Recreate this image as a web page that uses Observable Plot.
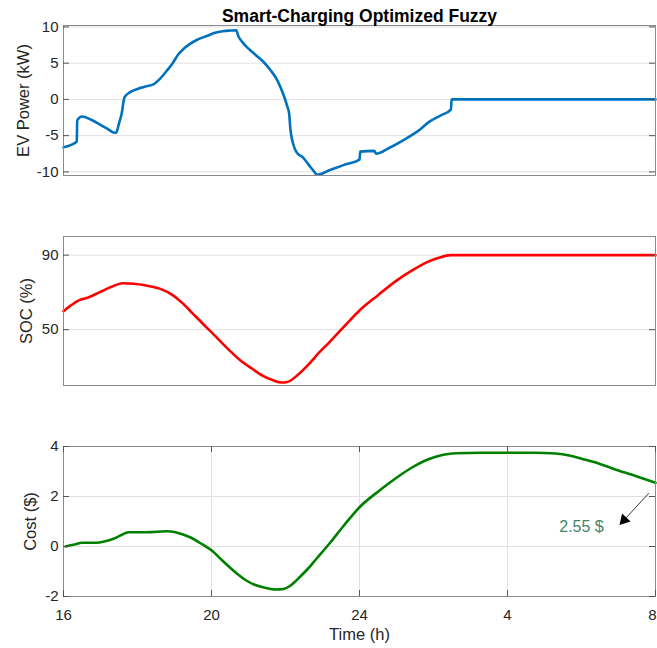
<!DOCTYPE html>
<html><head><meta charset="utf-8">
<script src="https://cdn.jsdelivr.net/npm/d3@7"></script>
<script src="https://cdn.jsdelivr.net/npm/@observablehq/plot@0.6"></script>
<style>
html,body{margin:0;padding:0;background:#fff;overflow:hidden;}
#wrap{position:relative;width:657px;height:648px;}
#wrap svg{position:absolute;left:0;}
</style></head><body><div id="wrap"></div>
<script>
// ---- data ----
const title = "Smart-Charging Optimized Fuzzy";
const xLabel = "Time (h)";
const xTicks = [16, 20, 24, 28, 32];
const xTickLabels = ["16", "20", "24", "4", "8"];

const powerT = [16.0,16.36,16.37,16.5,16.75,17.0,17.2,17.35,17.42,17.5,17.57,17.65,17.8,18.0,18.2,18.44,18.6,18.8,18.95,19.1,19.25,19.4,19.6,19.87,20.1,20.3,20.5,20.67,20.72,20.85,21.0,21.2,21.4,21.6,21.75,21.87,21.97,22.05,22.1,22.13,22.18,22.25,22.35,22.45,22.55,22.7,22.78,22.85,23.2,23.6,24.0,24.02,24.4,24.45,24.8,25.26,25.6,25.88,26.2,26.47,26.49,32.0];
const powerV = [-6.6,-5.8,-2.9,-2.35,-2.8,-3.5,-4.1,-4.55,-4.6,-3.3,-2.0,0.3,1.0,1.45,1.75,2.1,2.8,4.0,5.0,6.2,7.0,7.6,8.2,8.75,9.2,9.4,9.5,9.55,8.8,7.8,7.0,6.1,5.2,4.0,2.9,1.6,0.3,-1.0,-2.0,-4.0,-5.6,-6.8,-7.6,-7.9,-8.5,-9.5,-10.0,-10.4,-9.75,-9.0,-8.3,-7.2,-7.1,-7.5,-6.7,-5.4,-4.3,-3.1,-2.2,-1.4,0,0];
const powerTicks = [-10, -5, 0, 5, 10];
const powerLabel = "EV Power (kW)";

const socT = [16.0,16.2,16.4,16.7,17.0,17.3,17.6,17.9,18.2,18.6,18.95,19.2,19.5,19.8,20.13,20.45,20.76,21.1,21.39,21.65,21.89,22.05,22.35,22.65,22.9,23.19,23.6,24.0,24.5,25.0,25.4,25.8,26.1,26.47,32.0];
const socV = [59.9,63.0,65.6,67.5,70.3,73.0,74.9,74.6,73.8,72.0,68.5,64.5,58.5,52.5,46,39.5,33.8,29.0,25.2,22.9,21.6,21.9,26.0,31.9,37.5,43.3,52.0,60.3,68.5,76.3,81.5,86.0,88.3,90,90];
const socTicks = [50, 90];
const socLabel = "SOC (%)";

const costT = [16.05,16.3,16.5,16.9,17.1,17.35,17.55,17.75,18.25,18.79,19.0,19.23,19.45,19.68,20.04,20.25,20.49,20.7,20.94,21.15,21.39,21.75,21.95,22.1,22.25,22.38,22.6,22.83,23.19,23.6,24.0,24.54,25.0,25.43,25.75,26.06,26.3,26.6,27.3,28.04,28.7,29.3,29.7,30.0,30.5,31.0,31.5,32.0];
const costV = [0.0,0.08,0.15,0.15,0.2,0.31,0.45,0.57,0.57,0.61,0.58,0.48,0.35,0.15,-0.2,-0.5,-0.83,-1.1,-1.36,-1.52,-1.63,-1.72,-1.7,-1.6,-1.42,-1.23,-0.9,-0.5,0.12,0.88,1.57,2.24,2.75,3.17,3.42,3.59,3.68,3.73,3.75,3.75,3.75,3.72,3.63,3.51,3.3,3.04,2.8,2.55];
const costTicks = [-2, 0, 2, 4];
const costLabel = "Cost ($)";

const noteText = ["2.55 $"];
const noteAt = [{t: 30.0, v: 0.77}];
const arrowFrom = [{t: 31.82, v: 2.13}];
const arrowTo = [{t: 31.15, v: 1.06}];

// ---- drawing ----
const W = 657, ML = 63, MR = 2;
const FONT = "'Liberation Sans', Arial, Helvetica, sans-serif";
const toRows = (T, V) => T.map((t, i) => ({t, v: V[i]}));
const fmtX = d => xTickLabels[xTicks.indexOf(d)];

function panel({rows, color, yDomain, yTicks, ylabel, labelDx, top, height, mt, mb, bottomAxis, extra = []}) {
  const innerW = W - ML - MR, innerH = height - mt - mb;
  const marks = [
    Plot.gridY(yTicks, {stroke: "#e1e1e1", strokeOpacity: 1}),
    bottomAxis ? Plot.gridX(xTicks, {stroke: "#e1e1e1", strokeOpacity: 1}) : null,
    Plot.line(rows, {x: "t", y: "v", stroke: color, strokeWidth: 2.6, curve: "monotone-x"}),
    Plot.frame({stroke: "#8a8a8a"}),
    Plot.tickY(yTicks, {y: d => d, insetRight: innerW - 6, stroke: "#555"}),
    Plot.tickY(yTicks, {y: d => d, insetLeft: innerW - 6, stroke: "#555"}),
    bottomAxis ? Plot.tickX(xTicks, {x: d => d, insetTop: innerH - 6, stroke: "#555"}) : null,
    bottomAxis ? Plot.tickX(xTicks, {x: d => d, insetBottom: innerH - 6, stroke: "#555"}) : null,
    Plot.axisY(yTicks, {tickSize: 0, tickPadding: 5, label: null, fontSize: 15, fill: "#262626",
      tickFormat: d => String(d)}),
    bottomAxis ? Plot.axisX(xTicks.slice(0, -1), {tickSize: 0, tickPadding: 13, label: null, fontSize: 15,
      fill: "#262626", tickFormat: fmtX}) : null,
    bottomAxis ? Plot.axisX(xTicks.slice(-1), {tickSize: 0, tickPadding: 13, label: null, fontSize: 15,
      fill: "#262626", tickFormat: fmtX, dx: -3}) : null,
    Plot.text([ylabel], {frameAnchor: "left", dx: labelDx, rotate: -90, text: d => d,
      fontSize: 16.5, fill: "#262626", textAnchor: "middle", lineAnchor: "middle"}),
    ...extra
  ];
  const svg = Plot.plot({
    width: W, height, marginLeft: ML, marginRight: MR, marginTop: mt, marginBottom: mb,
    x: {domain: [16, 32], axis: null},
    y: {domain: yDomain, axis: null},
    style: {fontFamily: FONT, fontSize: "15px", color: "#262626", background: "transparent", overflow: "visible"},
    marks
  });
  svg.style.top = top + "px";
  document.getElementById("wrap").appendChild(svg);
}

panel({
  rows: toRows(powerT, powerV), color: "#0072BD", yDomain: [-10.5, 10.2], yTicks: powerTicks,
  ylabel: powerLabel, labelDx: -40, top: 0, height: 200, mt: 25, mb: 25, bottomAxis: false,
  extra: [Plot.text([title], {frameAnchor: "top", dy: -4, text: d => d, fontSize: 17.5, fontWeight: "bold",
    fill: "#000", lineAnchor: "bottom"})]
});
panel({
  rows: toRows(socT, socV), color: "#FF0000", yDomain: [20, 100], yTicks: socTicks,
  ylabel: socLabel, labelDx: -37, top: 210, height: 200, mt: 26, mb: 25, bottomAxis: false
});
panel({
  rows: toRows(costT, costV), color: "#008000", yDomain: [-2, 4], yTicks: costTicks,
  ylabel: costLabel, labelDx: -33, top: 420, height: 228, mt: 26, mb: 52, bottomAxis: true,
  extra: [
    Plot.text(noteAt, {x: "t", y: "v", text: (d, i) => noteText[i], fontSize: 16, fill: "#42846a", lineAnchor: "middle"}),
    Plot.link(arrowFrom.map((d, i) => ({x1: d.t, y1: d.v, x2: arrowTo[i].t, y2: arrowTo[i].v})),
      {x1: "x1", y1: "y1", x2: "x2", y2: "y2", stroke: "#000", strokeWidth: 0.8}),
    Plot.dot(arrowTo, {x: "t", y: "v", symbol: "triangle", r: 4.3, fill: "#000", stroke: null, rotate: 223}),
    Plot.text([xLabel], {frameAnchor: "bottom", dy: 43, text: d => d, fontSize: 16.5, fill: "#262626", lineAnchor: "bottom"})
  ]
});
</script></body></html>
